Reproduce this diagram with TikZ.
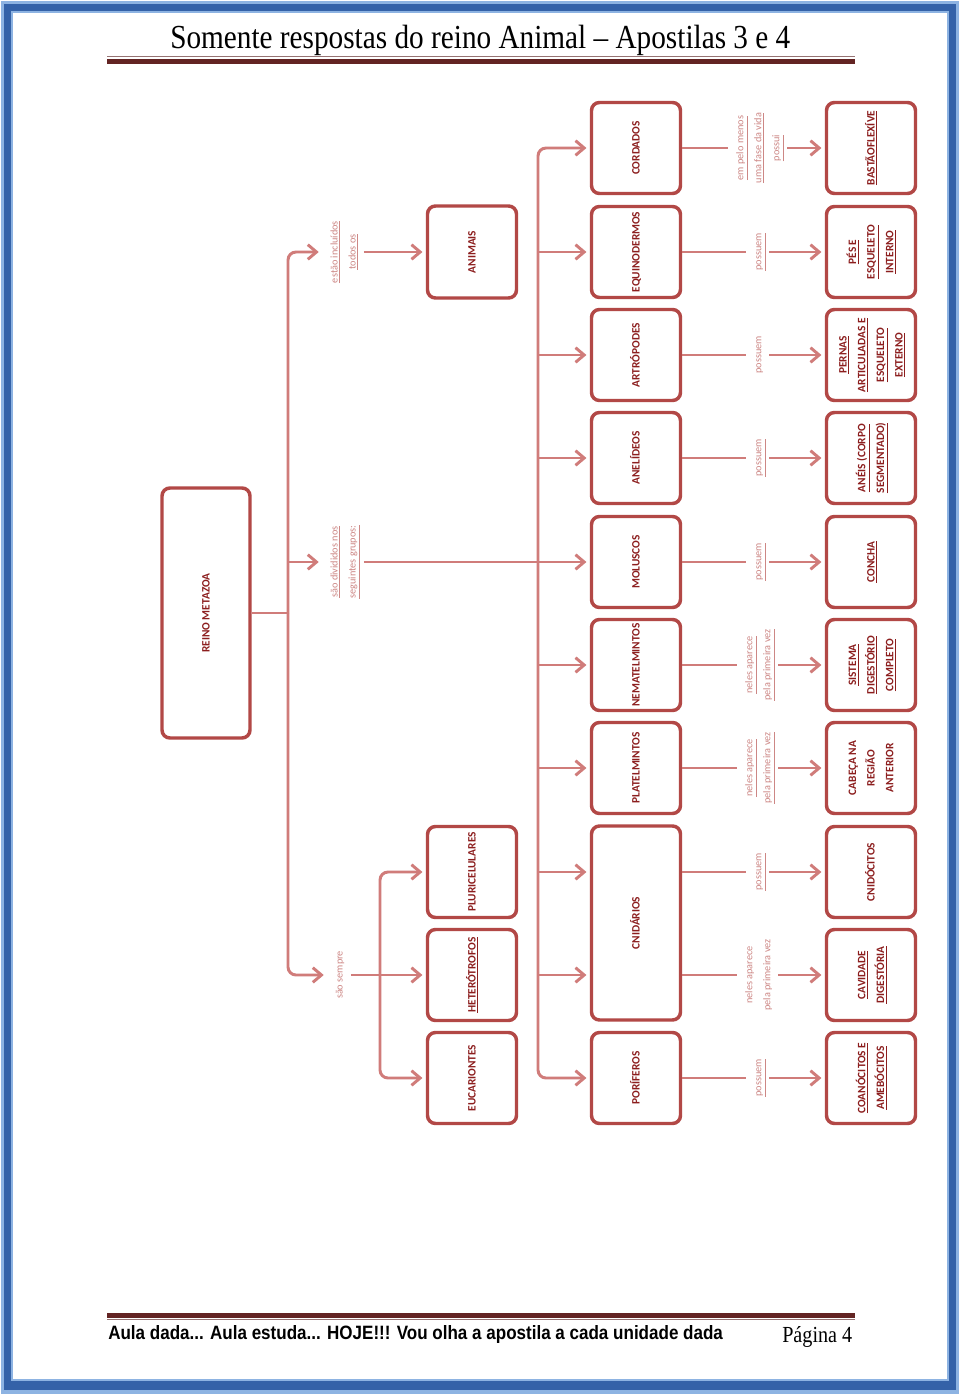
\documentclass[tikz,border=0pt]{standalone}
\usepackage{fontspec}
\setmainfont{Carlito}
\newfontfamily\serifT{Liberation Serif}
\newfontfamily\footF{Liberation Sans}
\usepackage{graphicx}
\usetikzlibrary{arrows.meta}
\definecolor{frameblue}{RGB}{52,98,168}
\definecolor{framelight}{RGB}{141,179,226}
\definecolor{maroonD}{RGB}{99,36,35}
\definecolor{thinline}{RGB}{150,115,115}
\definecolor{boxred}{RGB}{178,72,70}
\definecolor{linered}{RGB}{208,124,122}
\definecolor{txtred}{RGB}{140,30,30}
\definecolor{labred}{RGB}{205,135,133}
\newcommand\rtxt[1]{\rotatebox{90}{\begin{tabular}{@{}c@{}}#1\end{tabular}}}
\tikzset{
 box/.style={draw=boxred, line width=2.6pt, rounded corners=6pt, minimum width=66.75pt, minimum height=68.25pt, inner sep=0pt, text=txtred, font=\fontsize{8.5}{14}\selectfont\bfseries, align=center},
 conn/.style={draw=linered, line width=2.2pt},
 arr/.style={conn, -{Straight Barb[length=6.5pt,width=11pt]}, shorten >=2.5pt},
 lab/.style={fill=white, inner sep=2pt, text=labred, font=\fontsize{7.7}{13.5}\selectfont},
}
\begin{document}
\begin{tikzpicture}[x=0.75pt,y=-0.75pt]
\useasboundingbox (0,0) rectangle (960,1396);
% page frame
\fill[framelight] (1,1) rectangle (959,1394);
\fill[frameblue] (4,4) rectangle (956,1390);
\fill[framelight] (11,11) rectangle (949,1381);
\fill[white] (13,13) rectangle (947,1379);
% header
\node[anchor=base west, inner sep=0pt] (title) at (170,48) {\resizebox{465pt}{17.5pt}{\serifT Somente respostas do reino Animal – Apostilas 3 e 4}};
\fill[thinline] (107,55.5) rectangle (855,57);
\fill[maroonD] (107,58.5) rectangle (855,63.5);
% footer
\fill[maroonD] (107,1313) rectangle (855,1317.5);
\fill[thinline] (107,1318.5) rectangle (855,1320);
\node[anchor=base west, inner sep=0pt] (foot) at (108,1339) {\resizebox{461pt}{10.5pt}{\footF\bfseries Aula dada... Aula estuda... HOJE!!! Vou olha a apostila a cada unidade dada}};
\node[anchor=base west, inner sep=0pt] (pag) at (782,1342) {\resizebox{52.5pt}{12pt}{\serifT Página 4}};

% boxes
\node[box, minimum width=66pt, minimum height=187.5pt] (metazoa) at (206,613) {\rtxt{REINO METAZOA}};
\node[box, minimum height=69pt] (animais) at (472,252) {\rtxt{ANIMAIS}};
\node[box] (pluri) at (472,872) {\rtxt{PLURICELULARES}};
\node[box] (hetero) at (472,975) {\rtxt{\underline{HETERÓTROFOS}}};
\node[box] (euca) at (472,1078) {\rtxt{EUCARIONTES}};

\node[box] (cordados) at (636,148) {\rtxt{CORDADOS}};
\node[box] (equino) at (636,252) {\rtxt{EQUINODERMOS}};
\node[box] (artro) at (636,355) {\rtxt{ARTRÓPODES}};
\node[box] (anel) at (636,458) {\rtxt{ANELÍDEOS}};
\node[box] (molus) at (636,562) {\rtxt{MOLUSCOS}};
\node[box] (nemat) at (636,665) {\rtxt{NEMATELMINTOS}};
\node[box] (plat) at (636,768) {\rtxt{PLATELMINTOS}};
\node[box, minimum height=145.5pt] (cnid) at (636,923) {\rtxt{CNIDÁRIOS}};
\node[box] (porif) at (636,1078) {\rtxt{PORÍFEROS}};

\node[box] (bastao) at (871,148) {\rtxt{\underline{BASTÃOFLEXÍVE}}};
\node[box] (pes) at (871,252) {\rtxt{\underline{PÉS E}\\\underline{ESQUELETO}\\\underline{INTERNO}}};
\node[box] (pernas) at (871,355) {\rtxt{\underline{PERNAS}\\\underline{ARTICULADAS E}\\\underline{ESQUELETO}\\\underline{EXTERNO}}};
\node[box] (aneis) at (871,458) {\rtxt{\underline{ANÉIS (CORPO}\\\underline{SEGMENTADO)}}};
\node[box] (concha) at (871,562) {\rtxt{\underline{CONCHA}}};
\node[box] (sistema) at (871,665) {\rtxt{\underline{SISTEMA}\\\underline{DIGESTÓRIO}\\\underline{COMPLETO}}};
\node[box] (cabeca) at (871,768) {\rtxt{CABEÇA NA\\REGIÃO\\ANTERIOR}};
\node[box] (cnido) at (871,872) {\rtxt{CNIDÓCITOS}};
\node[box] (cavid) at (871,975) {\rtxt{\underline{CAVIDADE}\\\underline{DIGESTÓRIA}}};
\node[box] (coano) at (871,1078) {\rtxt{\underline{COANÓCITOS E}\\\underline{AMEBÓCITOS}}};

% left labels
\node[lab] (labestao) at (343,252) {\rtxt{\underline{estão incluídos}\\\underline{todos os}}};
\node[lab] (labdiv) at (343,562) {\rtxt{\underline{são divididos nos}\\\underline{seguintes grupos:}}};
\node[lab] (labsempre) at (339,975) {\rtxt{são sempre}};

% main spine
\coordinate (j0) at (288,613);
\draw[conn] (metazoa.east) -- (j0);
\draw[arr, rounded corners=6pt] (j0) |- (labestao.west);
\draw[arr, rounded corners=6pt] (j0) |- (labsempre.west);
\draw[arr] (labdiv.west -| j0) -- (labdiv.west);
\draw[arr] (labestao.east) -- (animais.west);
\draw[arr] (labsempre.east) -- (hetero.west);

% small spine
\coordinate (t0) at (380,975);
\draw[arr, rounded corners=6pt] (t0) |- (pluri.west);
\draw[arr, rounded corners=6pt] (t0) |- (euca.west);

% group spine
\coordinate (s0) at (538,562);
\draw[conn] (labdiv.east) -- (s0);
\draw[arr, rounded corners=6pt] (s0) |- (cordados.west);
\draw[arr, rounded corners=6pt] (s0) |- (porif.west);
\draw[arr] (equino.west -| s0) -- (equino.west);
\draw[arr] (artro.west -| s0) -- (artro.west);
\draw[arr] (anel.west -| s0) -- (anel.west);
\draw[arr] (s0) -- (molus.west);
\draw[arr] (nemat.west -| s0) -- (nemat.west);
\draw[arr] (plat.west -| s0) -- (plat.west);
\draw[arr] (cnido.west -| s0) -- (cnido.west -| cnid.west);
\draw[arr] (cavid.west -| s0) -- (cavid.west -| cnid.west);

% right connectors
\draw[arr] (cordados.east) -- node[lab, pos=0.53]{\rtxt{\underline{em pelo menos}\\\underline{uma fase da vida}\\\underline{possui}}} (bastao.west);
\draw[arr] (equino.east) -- node[lab, pos=0.53]{\rtxt{\underline{possuem}}} (pes.west);
\draw[arr] (artro.east) -- node[lab, pos=0.53]{\rtxt{possuem}} (pernas.west);
\draw[arr] (anel.east) -- node[lab, pos=0.53]{\rtxt{\underline{possuem}}} (aneis.west);
\draw[arr] (molus.east) -- node[lab, pos=0.53]{\rtxt{\underline{possuem}}} (concha.west);
\draw[arr] (nemat.east) -- node[lab, pos=0.53]{\rtxt{\underline{neles aparece}\\\underline{pela primeira vez}}} (sistema.west);
\draw[arr] (plat.east) -- node[lab, pos=0.53]{\rtxt{\underline{neles aparece}\\\underline{pela primeira vez}}} (cabeca.west);
\draw[arr] (cnido.west -| cnid.east) -- node[lab, pos=0.53]{\rtxt{\underline{possuem}}} (cnido.west);
\draw[arr] (cavid.west -| cnid.east) -- node[lab, pos=0.53]{\rtxt{neles aparece\\pela primeira vez}} (cavid.west);
\draw[arr] (porif.east) -- node[lab, pos=0.53]{\rtxt{\underline{possuem}}} (coano.west);
\end{tikzpicture}
\end{document}
